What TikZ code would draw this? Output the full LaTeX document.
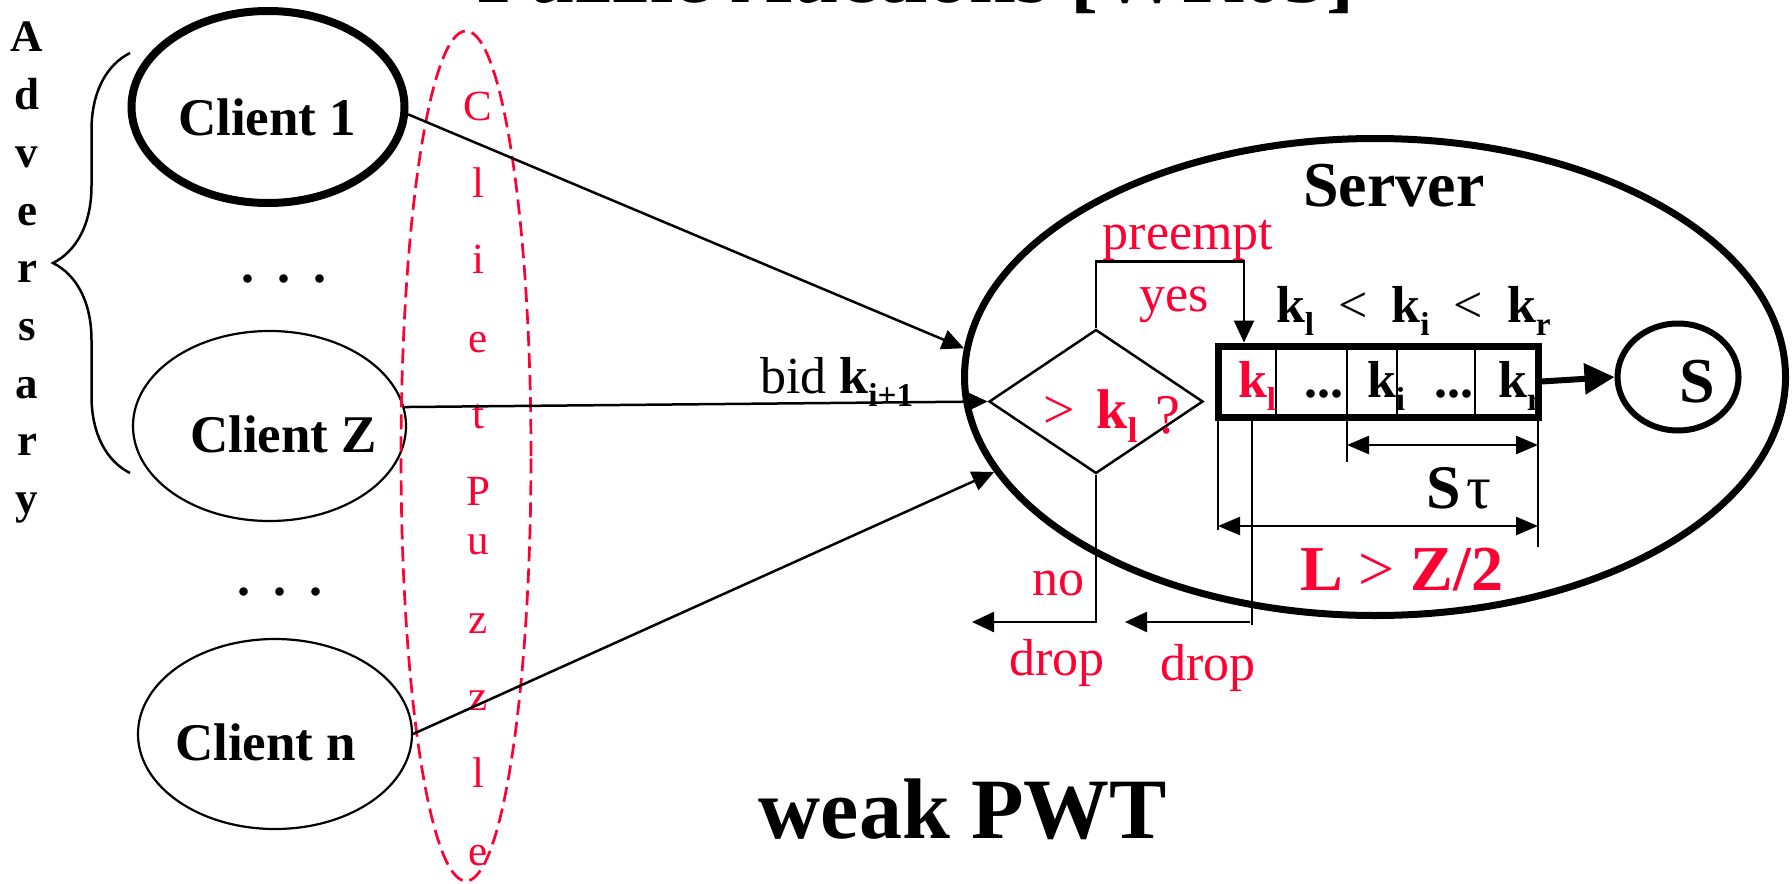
\documentclass[tikz,border=0pt]{standalone}
\usepackage{fontspec}
\setmainfont{Liberation Serif}
\usetikzlibrary{shapes.geometric,arrows.meta,decorations.pathreplacing}
\definecolor{pred}{RGB}{255,0,51}
\newcommand\fsz[1]{\fontsize{#1}{#1}\selectfont}
\newcommand\sbx[1]{\raisebox{-0.26em}{\scalebox{0.64}{#1}}}
\begin{document}
\begin{tikzpicture}[x=0.5pt,y=-0.5pt,
  txt/.style={inner sep=0pt, outer sep=0pt, anchor=base west},
  ctxt/.style={inner sep=0pt, outer sep=0pt, anchor=base},
  ln/.style={line width=1.25pt},
  arr/.style={line width=1.25pt, -{Triangle[length=11pt,width=10pt]}},
  darr/.style={line width=1.25pt, {Triangle[length=11pt,width=9pt]}-{Triangle[length=11pt,width=9pt]}},
  clientbox/.style={draw, ellipse, line width=1.1pt, inner sep=0pt},
  lab/.style={txt, font=\fsz{26pt}},
]
\useasboundingbox (0,0) rectangle (1792,883);

% title (cut off at the top)
\node[ctxt, font=\fsz{42pt}\bfseries] (title) at (916,3) {Puzzle Auctions [WR03]};

% Adversary
\foreach \l/\yy [count=\i] in {A/52,d/110,v/167,e/225,r/282,s/340,a/398,r/455,y/513}
  \node[ctxt, font=\fsz{22.5pt}\bfseries] (adv\i) at (27,\yy) {\l};
\draw[ln, decorate, decoration={brace, amplitude=38.5pt}] (130,473) -- (130,53);

% clients
\node[clientbox, line width=4pt, minimum width=136.5pt, minimum height=96pt] (c1) at (268,107) {};
\node[clientbox, minimum width=136.5pt, minimum height=95pt] (cz) at (269.5,426) {};
\node[clientbox, minimum width=137pt, minimum height=95pt] (cn) at (275,734) {};
\node[txt, font=\fsz{26.5pt}\bfseries] (t1) at (178,135) {Client 1};
\node[txt, font=\fsz{26.5pt}\bfseries] (tz) at (190,452) {Client Z};
\node[txt, font=\fsz{26.5pt}\bfseries] (tn) at (175,760) {Client n};
\node[ctxt, font=\fsz{26pt}\bfseries] (dots1) at (284,282) {.\hspace{11.5pt}.\hspace{11.5pt}.};
\node[ctxt, font=\fsz{26pt}\bfseries] (dots2) at (280,595) {.\hspace{11.5pt}.\hspace{11.5pt}.};

% client puzzle
\node[draw=pred, ellipse, line width=1.35pt, dash pattern=on 7.5pt off 3.5pt, minimum width=65pt, minimum height=425pt, inner sep=0pt] (puzzle) at (466,456) {};
\foreach \l/\yy [count=\i] in {C/120,l/197,i/273,e/352,t/428,P/505,u/554,z/633,z/710,l/787,e/865}
  \node[ctxt, text=pred, font=\fsz{21.5pt}] (pz\i) at (478,\yy) {\l};

% server
\node[draw, ellipse, line width=3.5pt, minimum width=410.5pt, minimum height=238.5pt, inner sep=0pt] (server) at (1375,377) {};
\node[ctxt, font=\fsz{32pt}\bfseries] (srv) at (1394,206) {Server};

% decision diamond
\node[draw, diamond, line width=1.25pt, minimum width=107pt, minimum height=72pt, inner sep=0pt] (dia) at (1096,401.5) {};
\node[txt, text=pred, font=\fsz{28pt}] (cmp) at (1043,428) {>\hspace{11pt}\textbf{k}\sbx{\textbf{l}}\hspace{9pt}\raisebox{-2.5pt}{?}};
\node[ctxt, text=pred, font=\fsz{26pt}] (pre) at (1188,249) {preempt};
\node[ctxt, text=pred, font=\fsz{26pt}] (yes) at (1174,311) {yes};

% queue
\node[draw, rectangle, line width=3.5pt, minimum width=160pt, minimum height=35.5pt, inner sep=0pt] (queue) at (1378,381.5) {};
\foreach \xx in {1276,1347,1397,1475}
  \draw[line width=1pt] (\xx,346) -- (\xx,417);
\node[lab, text=pred, font=\fsz{26pt}\bfseries] (q1) at (1238,397) {k\sbx{l}};
\node[lab, font=\fsz{26pt}\bfseries] (q2) at (1304,397) {...};
\node[lab, font=\fsz{26pt}\bfseries] (q3) at (1367,397) {k\sbx{i}};
\node[lab, font=\fsz{26pt}\bfseries] (q4) at (1434,397) {...};
\node[lab, font=\fsz{26pt}\bfseries] (q5) at (1498,397) {k\sbx{r}};
\node[lab] (order) at (1276,322) {\textbf{k}\sbx{\textbf{l}}\hspace{12pt}<\hspace{12pt}\textbf{k}\sbx{\textbf{i}}\hspace{12pt}<\hspace{12pt}\textbf{k}\sbx{\textbf{r}}};

% S
\node[draw, ellipse, line width=3pt, minimum width=60.5pt, minimum height=53.5pt, inner sep=0pt] (scirc) at (1678,377) {};
\node[txt, font=\fsz{32pt}\bfseries] (slab) at (1679,402) {S};
\draw[line width=3pt, -{Triangle[length=15pt,width=15pt]}] (queue.east) -- (scirc.west);

% dimension lines
\draw[ln] (1218,417) -- (1218,530);
\draw[ln] (1252,417) -- (1252,625);
\draw[ln] (1347,417) -- (1347,462);
\draw[ln] (1538,417) -- (1538,547);
\draw[darr] (1347,445) -- (1538,445);
\draw[darr] (1218,526) -- (1538,526);
\node[txt, font=\fsz{31pt}] (stau) at (1426,508) {\textbf{S}\hspace{3pt}τ};
\node[txt, text=pred, font=\fsz{32pt}] (lz) at (1300,590) {\textbf{L} > \textbf{Z/2}};

% connectors
\draw[arr] (c1.-3) -- (server.176);
\draw[arr] (cz.8) -- (dia.west);
\draw[arr] (cn.east) -- (server.194);
\node[lab] (bid) at (760,393) {bid \textbf{k}\sbx{\textbf{i+1}}};

\coordinate (qin) at (1244,0 |- queue.north);
\draw[arr] (dia.north) -- ++(0,-67) -| (qin);

\coordinate (drop1) at (972,622);
\draw[arr] (dia.south) |- (drop1);
\coordinate (d2a) at (1250,622);
\coordinate (drop2) at (1125,622);
\draw[arr] (d2a) -- (drop2);
\node[lab, text=pred] (no) at (1032,595) {no};
\node[lab, text=pred] (dropa) at (1009,675) {drop};
\node[lab, text=pred] (dropb) at (1160,680) {drop};

\node[ctxt, font=\fsz{43pt}\bfseries] (weak) at (963,838) {weak PWT};
\end{tikzpicture}
\end{document}
